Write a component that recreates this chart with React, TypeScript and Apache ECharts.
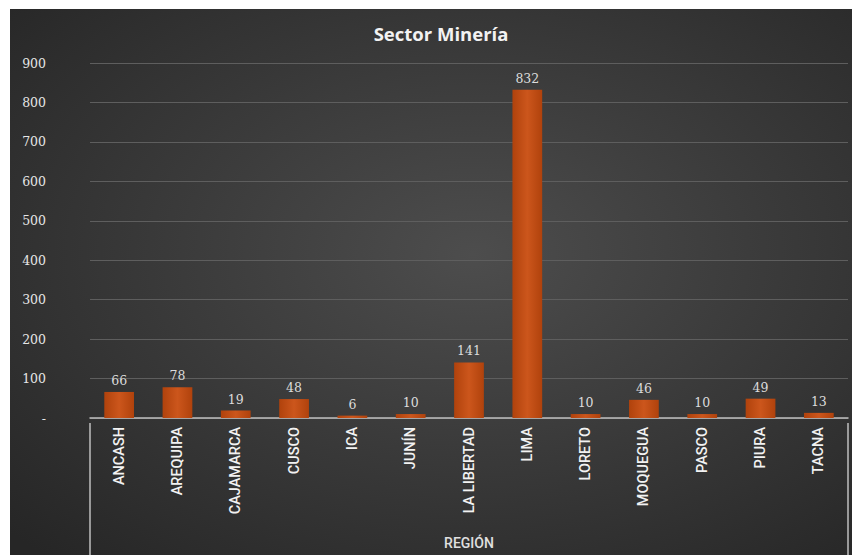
import React, { useEffect, useRef } from "react";
import * as echarts from "echarts";

const categories = ["ANCASH", "AREQUIPA", "CAJAMARCA", "CUSCO", "ICA", "JUNÍN", "LA LIBERTAD", "LIMA", "LORETO", "MOQUEGUA", "PASCO", "PIURA", "TACNA"];
const values = [66, 78, 19, 48, 6, 10, 141, 832, 10, 46, 10, 49, 13];
const yTicks = { min: 0, max: 900, interval: 100 };
const titleText = "Sector Minería";
const axisName = "REGIÓN";

export default function App() {
  const ref = useRef<HTMLDivElement>(null);
  useEffect(() => {
    if (!ref.current) return;
    const chart = echarts.init(ref.current, undefined, { renderer: "svg" });
    const W = 842, H = 546;
    const gl = 80, gr = 4, gt = 54, gb = 132;
    chart.setOption({
      animation: false,
      backgroundColor: {
        type: "radial", x: 0.55, y: 0.45, r: 0.75,
        colorStops: [
          { offset: 0, color: "#4d4d4d" },
          { offset: 1, color: "#262626" },
        ],
      },
      title: {
        text: titleText,
        left: 426,
        top: 10,
        textAlign: "center",
        textStyle: { color: "#f2f2f2", fontFamily: "Open Sans", fontWeight: "bold", fontSize: 18.5 },
      },
      grid: { left: gl, right: gr, top: gt, bottom: gb, containLabel: false },
      xAxis: {
        type: "category",
        data: categories,
        name: axisName,
        nameLocation: "middle",
        nameGap: 118,
        nameTextStyle: { color: "#e0e0e0", fontFamily: "Roboto", fontWeight: 500, fontSize: 14 },
        axisLine: { lineStyle: { color: "#bfbfbf", width: 1.5 } },
        axisTick: { show: false },
        axisLabel: {
          rotate: 90,
          interval: 0,
          margin: 9,
          color: "#f2f2f2",
          fontFamily: "Roboto",
          fontWeight: 500,
          fontSize: 14.5,
        },
      },
      yAxis: {
        type: "value",
        min: yTicks.min,
        max: yTicks.max,
        interval: yTicks.interval,
        axisLine: { show: false },
        axisTick: { show: false },
        splitLine: { lineStyle: { color: "#5e5e5e", width: 1 } },
        axisLabel: {
          margin: 44,
          color: "#e6e6e6",
          fontFamily: "DejaVu Serif",
          fontSize: 12.5,
          formatter: (v: number) => (v === 0 ? "-" : String(v)),
        },
      },
      series: [
        {
          type: "bar",
          data: values,
          barWidth: "51%",
          itemStyle: {
            color: {
              type: "linear", x: 0, y: 0, x2: 1, y2: 0,
              colorStops: [
                { offset: 0, color: "#b0420c" },
                { offset: 0.5, color: "#cc561c" },
                { offset: 1, color: "#b0420c" },
              ],
            },
          },
          label: {
            show: true,
            position: "top",
            distance: 5,
            color: "#dcdcdc",
            fontFamily: "DejaVu Serif",
            fontSize: 12.5,
          },
        },
      ],
      graphic: [
        { type: "line", shape: { x1: gl, y1: H - gb, x2: gl, y2: H }, style: { stroke: "#bfbfbf", lineWidth: 1.5 } },
        { type: "line", shape: { x1: W - gr, y1: H - gb, x2: W - gr, y2: H }, style: { stroke: "#bfbfbf", lineWidth: 1.5 } },
      ],
    });
    return () => chart.dispose();
  }, []);
  return (
    <div style={{ position: "fixed", left: 0, top: 0, width: 852, height: 555, background: "#ffffff" }}>
      <div ref={ref} style={{ position: "absolute", left: 10, top: 9, width: 842, height: 546 }} />
    </div>
  );
}
